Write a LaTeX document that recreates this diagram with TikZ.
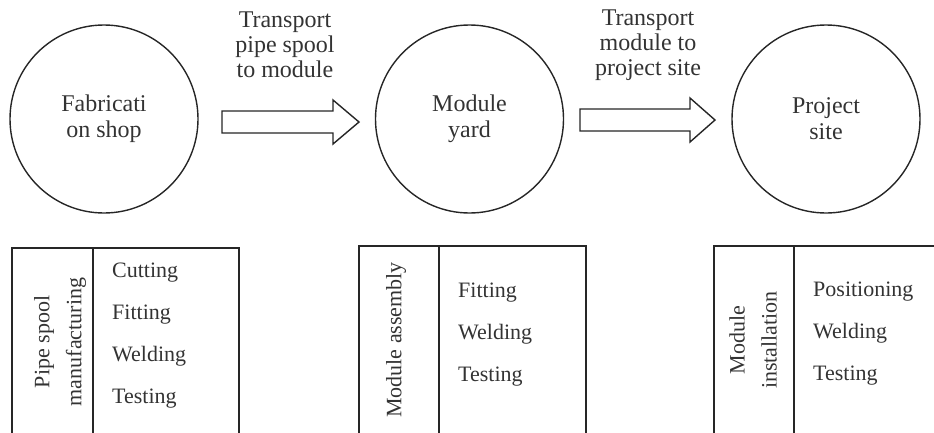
\documentclass[tikz,border=0pt]{standalone}
\usepackage{fontspec}
\setmainfont{Liberation Serif}
\begin{document}
\begin{tikzpicture}[x=1pt,y=-1pt,
  ink/.style={draw=black!85, line width=1.4pt},
  place/.style={ink, circle, minimum size=188pt, inner sep=0pt, text=black!80, align=center, font=\fontsize{24}{26}\selectfont},
  toplabel/.style={text=black!80, align=center, font=\fontsize{24}{25}\selectfont, inner sep=0pt},
  item/.style={text=black!80, anchor=base west, font=\fontsize{22}{24}\selectfont, inner sep=0pt},
  vlabel/.style={text=black!80, align=center, rotate=90, font=\fontsize{22}{32}\selectfont, inner sep=0pt},
  blockarrow/.style={draw=black!85, line width=1.4pt, fill=white, line join=miter}
]
\useasboundingbox (0,0) rectangle (934,432);
\clip (0,0) rectangle (934,432);

% circles
\node[place] (fab) at (104,119) {Fabricati\\on shop};
\node[place] (yard) at (469.5,119) {Module\\yard};
\node[place] (site) at (826,119) {Project\\site};

% transport labels
\node[toplabel] (t1) at (285,45) {Transport\\pipe spool\\to module};
\node[toplabel] (t2) at (648,45) {Transport\\module to\\project site};

% block arrows
\coordinate (a1s) at (222,122);
\coordinate (a1t) at (359,122);
\draw[blockarrow] ([yshift=11pt]a1s) -- (333,111) -- (333,100) -- (a1t) -- (333,144) -- (333,133) -- ([yshift=-11pt]a1s) -- cycle;
\coordinate (a2s) at (580,120);
\coordinate (a2t) at (715,120);
\draw[blockarrow] ([yshift=11pt]a2s) -- (690,109) -- (690,98) -- (a2t) -- (690,142) -- (690,131) -- ([yshift=-11pt]a2s) -- cycle;

% box 1
\draw[ink] (12,445) -- (12,248) -- (239,248) -- (239,445);
\draw[ink] (93,248) -- (93,445);
\node[vlabel] (v1) at (60,342) {Pipe spool\\manufacturing};
\node[item] (c1) at (112,277) {Cutting};
\node[item] (c2) at (112,319) {Fitting};
\node[item] (c3) at (112,361) {Welding};
\node[item] (c4) at (112,403) {Testing};

% box 2
\draw[ink] (359,445) -- (359,246) -- (586,246) -- (586,445);
\draw[ink] (439,246) -- (439,445);
\node[vlabel] (v2) at (396,340) {Module assembly};
\node[item] (m1) at (458,297) {Fitting};
\node[item] (m2) at (458,339) {Welding};
\node[item] (m3) at (458,381) {Testing};

% box 3
\draw[ink] (714,445) -- (714,246) -- (940,246);
\draw[ink] (794,246) -- (794,445);
\node[vlabel] (v3) at (753,340) {Module\\installation};
\node[item] (p1) at (813,296) {Positioning};
\node[item] (p2) at (813,338) {Welding};
\node[item] (p3) at (813,380) {Testing};
\end{tikzpicture}
\end{document}
